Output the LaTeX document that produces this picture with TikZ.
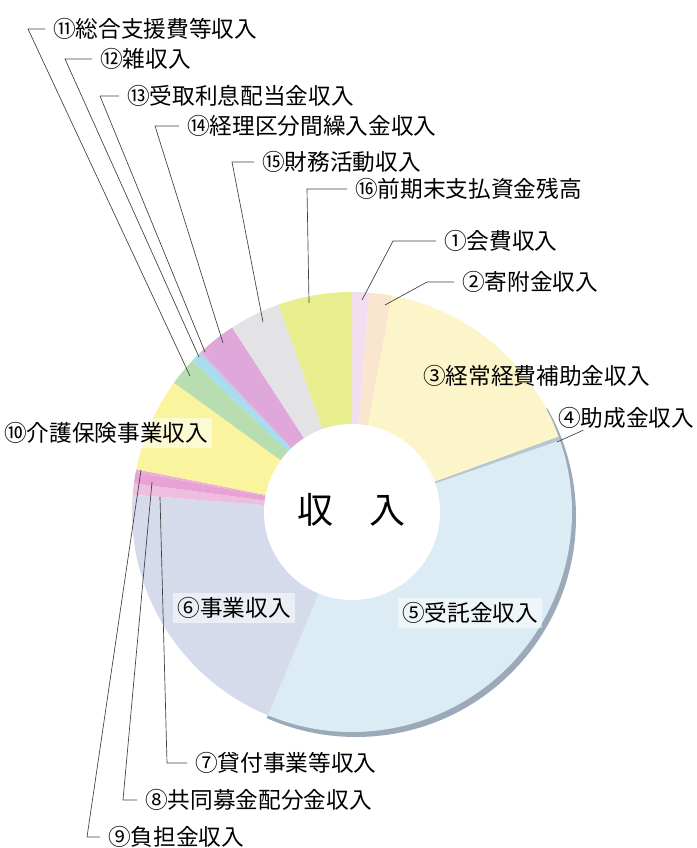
\documentclass[tikz,border=0pt]{standalone}
\usepackage{fontspec}
\setmainfont{Noto Sans CJK JP}
\definecolor{kaihi}{HTML}{F2DEF0}
\definecolor{kifu}{HTML}{FAE5CF}
\definecolor{hojo}{HTML}{FBF5C9}
\definecolor{josei}{HTML}{B9C6D2}
\definecolor{itaku}{HTML}{DCECF5}
\definecolor{jigyo}{HTML}{D6DBEB}
\definecolor{kashitsuke}{HTML}{EDBEDD}
\definecolor{bokin}{HTML}{E8A2D6}
\definecolor{futan}{HTML}{EAB0D5}
\definecolor{kaigo}{HTML}{FAF49E}
\definecolor{sogo}{HTML}{B8DDB0}
\definecolor{zatsu}{HTML}{A6DEF0}
\definecolor{rishi}{HTML}{C9C4E6}
\definecolor{kuri}{HTML}{E0A8DA}
\definecolor{zaimu}{HTML}{E3E3E6}
\definecolor{zendaka}{HTML}{E8EE8E}
\definecolor{rim}{HTML}{9BA9B8}

\begin{document}
\begin{tikzpicture}[x = 0.75pt, y = 0.75pt, font = \fontsize{17}{20}\selectfont]
	\tikzstyle{labelStyle} = [anchor = west, inner xsep = 6pt, inner ysep = 1pt]
	\tikzstyle{boxStyle} = [inner sep = 3pt, fill = white, fill opacity = 0.55, text opacity = 1]
	\tikzstyle{leaderStyle} = [draw = black!75, line width = 0.5pt]
	\useasboundingbox (0,0) rectangle (696,848);
	\coordinate (C) at (352,336);
	\begin{scope}
		\clip (C) -- ++(28:240) arc[start angle = 28, end angle = -112.5, radius = 240] -- cycle;
		\fill[rim] ([shift = {(4,-5)}]C) circle[radius = 220];
	\end{scope}
	\foreach \a/\b/\c in {85.5/90/kaihi, 79.5/85.5/kifu, 20/79.5/hojo, 19/20/josei, -112.5/19/itaku, 175.5/247.5/jigyo, 172.5/175.5/kashitsuke, 169.5/172.5/bokin, 168.8/169.5/futan, 144/168.8/kaigo, 136.5/144/sogo, 134/136.5/zatsu, 133.3/134/rishi, 123/133.3/kuri, 109.5/123/zaimu, 90/109.5/zendaka}
		\fill[\c] (C) -- ++(\a:220) arc[start angle = \a, end angle = \b, radius = 220] -- cycle;
	\fill[white] (C) circle[radius = 88];
	\node (total) at (351,338) {\fontsize{27}{30}\selectfont 収　入};
	\node[labelStyle] (l1) at (436,607) {①会費収入};
	\node[labelStyle] (l2) at (454,566) {②寄附金収入};
	\node[labelStyle] (l3) at (415,472) {③経常経費補助金収入};
	\node[labelStyle] (l4) at (550,430) {④助成金収入};
	\node[boxStyle] (l5) at (470,235) {⑤受託金収入};
	\node[boxStyle] (l6) at (234,240) {⑥事業収入};
	\node[labelStyle] (l7) at (187,85) {⑦貸付事業等収入};
	\node[labelStyle] (l8) at (137,48) {⑧共同募金配分金収入};
	\node[labelStyle] (l9) at (100,11) {⑨負担金収入};
	\node[boxStyle] (l10) at (106,415) {⑩介護保険事業収入};
	\node[labelStyle] (l11) at (45,819) {⑪総合支援費等収入};
	\node[labelStyle] (l12) at (92,789) {⑫雑収入};
	\node[labelStyle] (l13) at (119,752) {⑬受取利息配当金収入};
	\node[labelStyle] (l14) at (179,722) {⑭経理区分間繰入金収入};
	\node[labelStyle] (l15) at (254,686) {⑮財務活動収入};
	\node[labelStyle] (l16) at (347,659) {⑯前期末支払資金残高};
	\coordinate (p1) at (362,548);
	\coordinate (p2) at (385,543);
	\coordinate (p4) at (557,406);
	\coordinate (p7) at (160,351);
	\coordinate (p8) at (152,366);
	\coordinate (p9) at (141,378);
	\coordinate (p11) at (190,472);
	\coordinate (p12) at (199,491);
	\coordinate (p13) at (205,496);
	\coordinate (p14) at (223,505);
	\coordinate (p15) at (263,526);
	\coordinate (p16) at (309,545);
	\draw[leaderStyle] (p1) -- (393,607) -- (l1);
	\draw[leaderStyle] (p2) -- (427,566) -- (l2);
	\draw[leaderStyle] (p4) -- ([xshift = 25]l4.south west);
	\draw[leaderStyle] (p7) -- (167,85) -- (l7);
	\draw[leaderStyle] (p8) -- (123,48) -- (l8);
	\draw[leaderStyle] (p9) -- (87,11) -- (l9);
	\draw[leaderStyle] (p11) -- (28,819) -- (l11);
	\draw[leaderStyle] (p12) -- (65,789) -- (l12);
	\draw[leaderStyle] (p13) -- (100,752) -- (l13);
	\draw[leaderStyle] (p14) -- (155,722) -- (l14);
	\draw[leaderStyle] (p15) -- (232,686) -- (l15);
	\draw[leaderStyle] (p16) -- (307,659) -- (l16);
\end{tikzpicture}
\end{document}
